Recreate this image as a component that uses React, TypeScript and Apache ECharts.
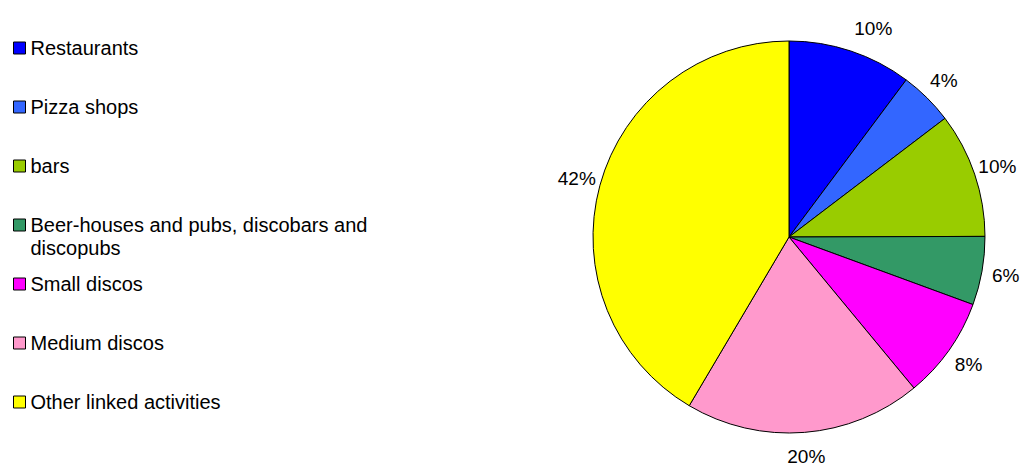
import React, { useEffect, useRef } from "react";
import * as echarts from "echarts";

const categories = [
  "Restaurants",
  "Pizza shops",
  "bars",
  "Beer-houses and pubs, discobars and discopubs",
  "Small discos",
  "Medium discos",
  "Other linked activities",
];
const values = [10.2, 4.45, 10.3, 5.65, 8.4, 19.5, 41.5];
const colors = ["#0000FF", "#3366FF", "#99CC00", "#339966", "#FF00FF", "#FF99CC", "#FFFF00"];
const legendDisplay: Record<string, string> = {
  "Beer-houses and pubs, discobars and discopubs": "\nBeer-houses and pubs, discobars and\ndiscopubs",
};

const FONT = "Arial, 'Liberation Sans', sans-serif";

export default function App() {
  const ref = useRef<HTMLDivElement>(null);
  useEffect(() => {
    if (!ref.current) return;
    const chart = echarts.init(ref.current, null, { renderer: "svg" });
    const data = categories.map((name, i) => ({
      name,
      value: values[i],
      itemStyle: { color: colors[i] },
    }));
    const iconCenters = [48, 107, 166, 225, 284, 343, 402];
    const LH = 23;
    const legends = categories.map((name, i) => {
      const multi = !!legendDisplay[name];
      return {
        data: [name],
        left: 13,
        top: multi ? iconCenters[i] - LH * 1.5 : iconCenters[i] - LH / 2,
        padding: 0,
        orient: "vertical",
        icon: "rect",
        itemWidth: 12,
        itemHeight: 12,
        selectedMode: false,
        itemStyle: { borderColor: "#000", borderWidth: 1 },
        formatter: (n: string) => legendDisplay[n] || n,
        textStyle: {
          fontFamily: FONT,
          fontSize: 20,
          lineHeight: LH,
          color: "#000",
        },
      };
    });
    const labelPads: Record<number, number[]> = { 0: [0, 0, 0, 30] };
    chart.setOption({
      animation: false,
      backgroundColor: "#fff",
      legend: legends,
      series: [
        {
          type: "pie",
          center: [789, 237],
          radius: [0, 196],
          startAngle: 90,
          clockwise: true,
          data,
          label: { show: false },
          labelLine: { show: false },
          itemStyle: { borderColor: "#000", borderWidth: 1 },
          emphasis: { disabled: true },
          silent: true,
        },
        {
          type: "pie",
          center: [789, 237],
          radius: [196, 238],
          startAngle: 90,
          clockwise: true,
          data: categories.map((name, i) => ({
            name,
            value: values[i],
            label: labelPads[i] ? { padding: labelPads[i] } : undefined,
          })),
          itemStyle: { color: "rgba(0,0,0,0)", borderWidth: 0 },
          label: {
            show: true,
            position: "inside",
            formatter: (p: any) => Math.round(p.value) + "%",
            fontFamily: FONT,
            fontSize: 19,
            lineHeight: 16,
            color: "#000",
          },
          labelLine: { show: false },
          emphasis: { disabled: true },
          silent: true,
        },
      ],
    });
    return () => chart.dispose();
  }, []);
  return (
    <div
      ref={ref}
      style={{ position: "absolute", left: 0, top: 0, width: 1025, height: 463 }}
    />
  );
}
